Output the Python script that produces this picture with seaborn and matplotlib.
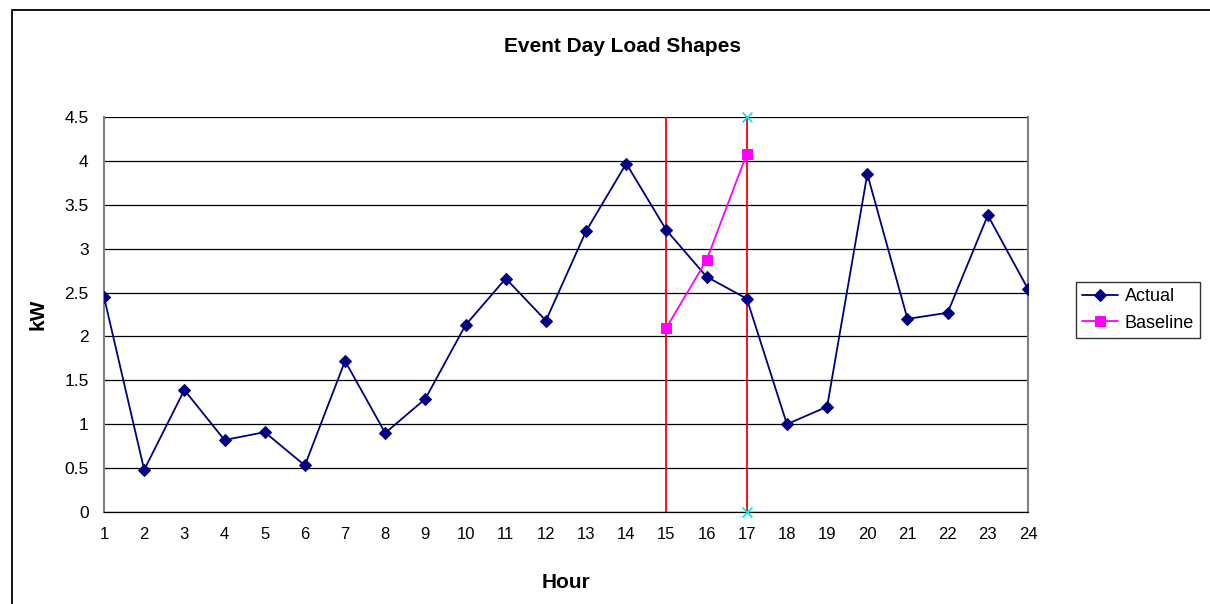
import matplotlib
matplotlib.use("Agg")
import matplotlib.pyplot as plt
from matplotlib.patches import Rectangle
import seaborn as sns

# Hourly load (kW) on the event day
hours = list(range(1, 25))
actual_kw = [2.45, 0.48, 1.39, 0.82, 0.91, 0.53, 1.72, 0.90, 1.29, 2.13, 2.66, 2.18,
             3.20, 3.97, 3.21, 2.68, 2.43, 1.00, 1.20, 3.85, 2.20, 2.27, 3.38, 2.54]

# Baseline estimate over the event window
baseline_hours = [15, 16, 17]
baseline_kw = [2.10, 2.87, 4.08]

# Event window boundaries
event_bounds = [15, 17]
end_marker_y = [0.0, 4.5]

y_ticks = [0, 0.5, 1, 1.5, 2, 2.5, 3, 3.5, 4, 4.5]
y_labels = ["0", "0.5", "1", "1.5", "2", "2.5", "3", "3.5", "4", "4.5"]

sns.set_style("white")
plt.rcParams["font.family"] = ["Liberation Sans", "DejaVu Sans"]
plt.rcParams["text.color"] = "black"
plt.rcParams["axes.labelcolor"] = "black"
plt.rcParams["xtick.color"] = "black"
plt.rcParams["ytick.color"] = "black"

fig = plt.figure(figsize=(12.1, 6.04), dpi=100)
ax = fig.add_axes([104 / 1210, 1 - 512 / 604, (1028 - 104) / 1210, (512 - 117) / 604])

# Horizontal gridlines
for yv in y_ticks:
    ax.axhline(yv, color="black", lw=0.9, zorder=1)

# Event window boundaries
for xb in event_bounds:
    ax.axvline(xb, color="#FF0000", lw=1.3, zorder=2)

sns.lineplot(x=hours, y=actual_kw, ax=ax, color="#000080", lw=1.3,
             marker="D", markersize=6, markeredgecolor="#000080",
             label="Actual", zorder=4)
sns.lineplot(x=baseline_hours, y=baseline_kw, ax=ax, color="#FF00FF", lw=1.3,
             marker="s", markersize=7, markeredgecolor="#FF00FF",
             label="Baseline", zorder=4)

ax.scatter([event_bounds[1]] * len(end_marker_y), end_marker_y, marker="x",
           color="#00E5EE", s=50, linewidths=1.2, zorder=5, clip_on=False)

ax.set_xlim(hours[0], hours[-1])
ax.set_ylim(0, 4.5)
ax.set_xticks(hours)
ax.set_xticklabels([str(h) for h in hours], fontsize=12)
ax.set_yticks(y_ticks)
ax.set_yticklabels(y_labels, fontsize=12.5)
ax.tick_params(axis="both", direction="out", length=5, width=0.9, pad=6)
ax.tick_params(axis="both", which="major", color="#555555")

ax.spines["top"].set_visible(False)
ax.spines["left"].set_color("#808080")
ax.spines["left"].set_linewidth(1.5)
ax.spines["right"].set_color("#808080")
ax.spines["right"].set_linewidth(1.5)
ax.spines["bottom"].set_color("black")
ax.spines["bottom"].set_linewidth(0.9)

ax.set_xlabel("Hour", fontsize=15, fontweight="bold", labelpad=22)
ax.set_ylabel("kW", fontsize=15, fontweight="bold", labelpad=12)
fig.text(622 / 1210, 1 - 46 / 604, "Event Day Load Shapes", ha="center", va="center",
         fontsize=15, fontweight="bold")

leg = ax.legend(loc="center left", bbox_to_anchor=(1076 / 1210, 1 - 310 / 604),
                bbox_transform=fig.transFigure, frameon=True, fancybox=False,
                fontsize=13, handlelength=2.0, borderpad=0.35, labelspacing=0.5,
                handletextpad=0.35, borderaxespad=0)
leg.get_frame().set_edgecolor("black")
leg.get_frame().set_linewidth(1.0)

# Chart area border
fig.patches.append(Rectangle((12 / 1210, -0.5), 2.0, 1.5 - 10 / 604,
                             transform=fig.transFigure, fill=False,
                             edgecolor="black", lw=1.3))

fig.savefig("out.png", dpi=100)
